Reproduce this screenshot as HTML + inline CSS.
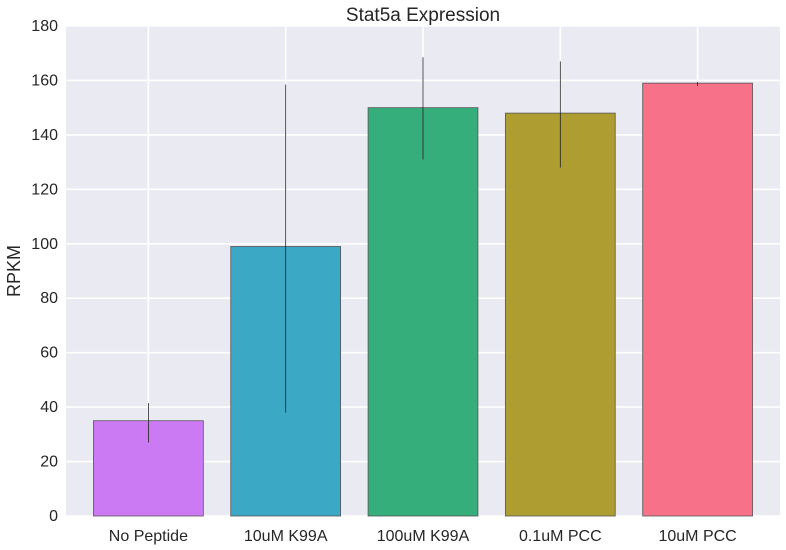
<!DOCTYPE html>
<html><head><meta charset="utf-8"><style>
body{margin:0;background:#fff;}
svg{display:block;font-family:"Liberation Sans",Arial,sans-serif;}
</style></head><body>
<svg id="chart" width="786" height="550">
<rect x="66" y="26" width="714" height="490" fill="#eaeaf2"/>
<g id="grid"></g><g id="bars"></g><g id="errs"></g><g id="labels"></g>
<text x="423" y="21" font-size="19" text-anchor="middle" fill="#262626">Stat5a Expression</text>
<text transform="translate(20,271) rotate(-90)" font-size="18" text-anchor="middle" fill="#262626">RPKM</text>
</svg>
<script>
const categories=["No Peptide","10uM K99A","100uM K99A","0.1uM PCC","10uM PCC"];
const values=[35,99,150,148,159];
const errLow=[27,38,131,128,158];
const errHigh=[41.5,158.5,168.5,167,159.5];
const colors=["#cc7af4","#3ba8c6","#36ae7b","#ae9d31","#f77189"];
const yTicks=[0,20,40,60,80,100,120,140,160,180];
const NS="http://www.w3.org/2000/svg";
const L=66,R=780,T=26,B=516;
const y=v=>B-(v/180)*(B-T);
const x=i=>L+(i+0.6)/5.2*(R-L);
const bw=0.8/5.2*(R-L);
function mk(t,a,p){const e=document.createElementNS(NS,t);for(const k in a)e.setAttribute(k,a[k]);p.appendChild(e);return e;}
const g=document.getElementById('grid'),b=document.getElementById('bars'),er=document.getElementById('errs'),lb=document.getElementById('labels');
yTicks.forEach(v=>{
 const l=mk('line',{x1:L,x2:R,y1:y(v),y2:y(v),stroke:'#fff','stroke-width':1.6},g);
 
 
 const t=mk('text',{x:L-8,y:y(v)+5,'font-size':16,'text-anchor':'end',fill:'#262626'},lb);
 t.textContent=v;
 
 
});
categories.forEach((c,i)=>{
 const vl=mk('line',{x1:x(i),x2:x(i),y1:T,y2:B,stroke:'#fff','stroke-width':1.6},g);
 
 
 const r=mk('rect',{x:x(i)-bw/2,y:y(values[i]),width:bw,height:B-y(values[i]),fill:colors[i],stroke:'#555','stroke-width':0.8},b);
 
 
 const e=mk('line',{x1:x(i),x2:x(i),y1:y(errHigh[i]),y2:y(errLow[i]),stroke:'#222','stroke-width':0.8},er);
 
 
 const t=mk('text',{x:x(i),y:541,'font-size':16,'text-anchor':'middle',fill:'#262626'},lb);
 t.textContent=c;
 
 
});
</script>
</body></html>
